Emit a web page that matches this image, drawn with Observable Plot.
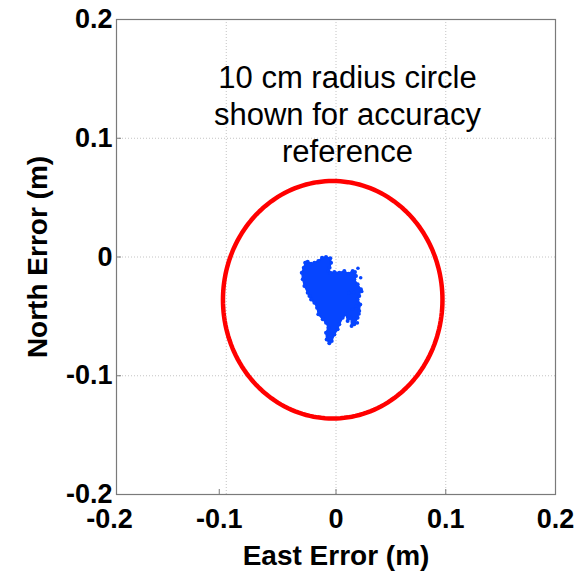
<!DOCTYPE html>
<html>
<head>
<meta charset="utf-8">
<script src="https://cdn.jsdelivr.net/npm/d3@7"></script>
<script src="https://cdn.jsdelivr.net/npm/@observablehq/plot@0.6"></script>
<style>
  html, body { margin: 0; padding: 0; background: #fff; }
  #chart svg { display: block; font-family: "Liberation Sans", Arial, sans-serif; }
</style>
</head>
<body>
<div id="chart"></div>
<script>
// Axis ticks (metres)
const xTicks = [-0.2, -0.1, 0, 0.1, 0.2];
const yTicks = [-0.2, -0.1, 0, 0.1, 0.2];

// Outline of the position-error cloud (East, North in metres)
const cloudEast = [
  -0.0279, -0.0258, -0.0227, -0.0197, -0.0161, -0.0127, -0.0091, -0.0052, -0.0045, -0.0058,
  -0.0070, -0.0052, -0.0015, 0.0030, 0.0076, 0.0112, 0.0152, 0.0173, 0.0182, 0.0167,
  0.0197, 0.0227, 0.0212, 0.0197, 0.0221, 0.0212, 0.0197, 0.0167, 0.0142, 0.0136,
  0.0106, 0.0091, 0.0061, 0.0030, 0.0015, -0.0015, -0.0039, -0.0061, -0.0085, -0.0091,
  -0.0070, -0.0091, -0.0121, -0.0161, -0.0173, -0.0197, -0.0227, -0.0242, -0.0258, -0.0288,
  -0.0303, -0.0312, -0.0294
];
const cloudNorth = [
  -0.0048, -0.0039, -0.0056, -0.0048, -0.0034, -0.0006, 0.0000, -0.0011, -0.0048, -0.0090,
  -0.0118, -0.0132, -0.0126, -0.0132, -0.0118, -0.0140, -0.0118, -0.0126, -0.0160, -0.0188,
  -0.0230, -0.0272, -0.0329, -0.0357, -0.0399, -0.0455, -0.0511, -0.0567, -0.0581, -0.0511,
  -0.0539, -0.0483, -0.0511, -0.0567, -0.0609, -0.0652, -0.0708, -0.0727, -0.0694, -0.0637,
  -0.0595, -0.0553, -0.0525, -0.0483, -0.0427, -0.0385, -0.0357, -0.0329, -0.0300, -0.0244,
  -0.0188, -0.0132, -0.0090
];

// Stray fixes on the ragged east edge of the cloud
const strayEast = [0.0200, 0.0225, 0.0160, 0.0235, 0.0185, 0.0150, 0.0120, 0.0210, 0.0195];
const strayNorth = [-0.0095, -0.0175, -0.0300, -0.0290, -0.0415, -0.0440, -0.0300, -0.0480, -0.0555];

// Reference circle: 10 cm radius around the mean position
const circleCenter = [-0.003, -0.036];
const circleRadius = 0.1;

const note = "10 cm radius circle\nshown for accuracy\nreference";
const noteAt = [0.0105, 0.121];

const cloud = cloudEast.map((e, i) => ({east: e, north: cloudNorth[i]}));
cloud.push(cloud[0]);
const stray = strayEast.map((e, i) => ({east: e, north: strayNorth[i]}));

const circle = d3.range(0, 361, 2).map(a => ({
  east: circleCenter[0] + circleRadius * Math.cos(a * Math.PI / 180),
  north: circleCenter[1] + circleRadius * Math.sin(a * Math.PI / 180)
}));

const fmt = v => v === 0 ? "0" : String(v);
const blue = "#0645ff";
const grid = {stroke: "#c4c4c4", strokeOpacity: 1, strokeDasharray: "1,2"};
const tickStyle = {
  tickSize: -5, tickFormat: fmt, stroke: "#7a7a7a",
  fontSize: 27, fontWeight: "bold", fill: "#000", label: null
};

const chart = Plot.plot({
  width: 587,
  height: 576,
  marginLeft: 116,
  marginRight: 32,
  marginTop: 19,
  marginBottom: 82,
  style: {fontFamily: "'Liberation Sans', Arial, sans-serif", background: "#fff"},
  x: {domain: [-0.2, 0.2]},
  y: {domain: [-0.2, 0.2]},
  marks: [
    Plot.gridX([-0.1, 0, 0.1], grid),
    Plot.gridY([-0.1, 0, 0.1], grid),
    Plot.frame({stroke: "#7a7a7a", strokeWidth: 1.2}),
    Plot.axisX(xTicks.filter(v => v < 0), {...tickStyle, tickPadding: 19, dx: -7}),
    Plot.axisX(xTicks.filter(v => v >= 0), {...tickStyle, tickPadding: 19}),
    Plot.axisY(yTicks, {...tickStyle, tickPadding: 9}),
    Plot.text(["East Error (m)"], {
      frameAnchor: "bottom", dy: 70, fontSize: 28, fontWeight: "bold", fill: "#000"
    }),
    Plot.text(["North Error (m)"], {
      frameAnchor: "left", textAnchor: "middle", dx: -78, rotate: -90,
      fontSize: 28, fontWeight: "bold", fill: "#000"
    }),
    Plot.line(cloud, {
      x: "east", y: "north", fill: blue, stroke: blue, strokeWidth: 1.5,
      strokeLinejoin: "miter", curve: "linear"
    }),
    Plot.dot(cloud, {x: "east", y: "north", r: 2, fill: blue}),
    Plot.dot(stray, {x: "east", y: "north", r: 1.8, fill: blue}),
    Plot.line(circle, {x: "east", y: "north", stroke: "#ff0000", strokeWidth: 4.5}),
    Plot.text([note], {
      x: () => noteAt[0], y: () => noteAt[1], text: d => d,
      fontSize: 31, lineHeight: 1.2, fill: "#000", textAnchor: "middle"
    })
  ]
});

document.getElementById("chart").appendChild(chart);
</script>
</body>
</html>
